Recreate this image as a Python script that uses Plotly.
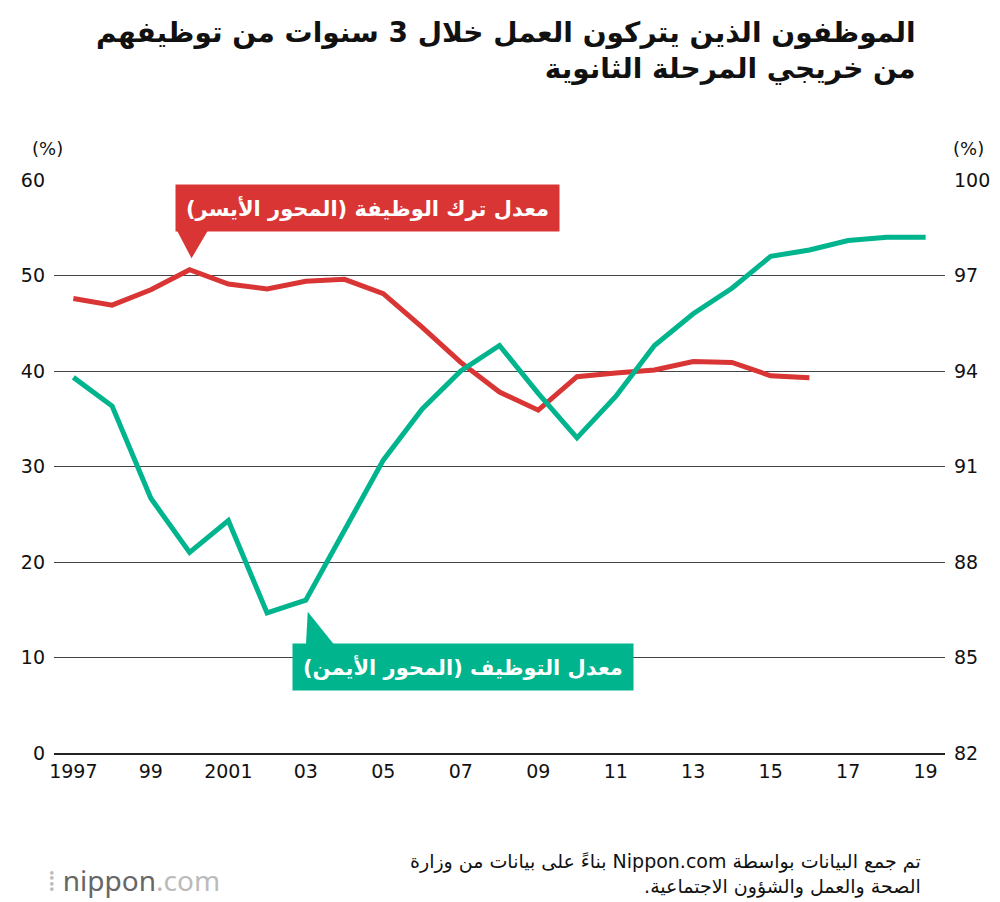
import plotly.graph_objects as go

years = list(range(1997, 2020))
leave_years = list(range(1997, 2017))
leave_rate = [47.6, 46.9, 48.5, 50.6, 49.1, 48.6, 49.4, 49.6, 48.1, 44.6, 40.9, 37.8, 35.9, 39.4, 39.8, 40.1, 41.0, 40.9, 39.5, 39.3]
emp_rate = [93.8, 92.9, 90.0, 88.3, 89.3, 86.4, 86.8, 89.0, 91.2, 92.8, 94.0, 94.8, 93.3, 91.9, 93.2, 94.8, 95.8, 96.6, 97.6, 97.8, 98.1, 98.2, 98.2]
xtick_vals = list(range(1997, 2020, 2))
xtick_text = ["1997", "99", "2001", "03", "05", "07", "09", "11", "13", "15", "17", "19"]

RED = "#d93535"
GREEN = "#00b48e"
F = "DejaVu Sans, Noto Sans"
RLE, PDF = "\u202B", "\u202C"

def py(p):  # pixel row -> paper y (plot area 180..753)
    return (753 - p) / 573

fig = go.Figure()
fig.add_trace(go.Scatter(x=leave_years, y=leave_rate, mode="lines", line=dict(color=RED, width=5), yaxis="y"))
fig.add_trace(go.Scatter(x=years, y=emp_rate, mode="lines", line=dict(color=GREEN, width=5), yaxis="y2"))

fig.update_layout(
    width=1000, height=902, showlegend=False,
    paper_bgcolor="white", plot_bgcolor="white",
    margin=dict(l=46, r=63, t=172, b=157, autoexpand=False),
    font=dict(family=F, size=20, color="#111"),
    xaxis=dict(range=[1996.5, 2019.5], tickvals=xtick_vals, ticktext=xtick_text, showgrid=False,
               showline=True, linecolor="#222", linewidth=2, ticks="", zeroline=False,
               tickfont=dict(size=19)),
    yaxis=dict(range=[0, 60], dtick=10, gridcolor="#444", gridwidth=1, zeroline=False,
               ticks="", tickfont=dict(size=19), ticklabelstandoff=8),
    yaxis2=dict(range=[82, 100], tick0=82, dtick=3, overlaying="y", side="right", showgrid=False,
                zeroline=False, ticks="", tickfont=dict(size=19), ticklabelstandoff=8),
)

ann = [
    dict(x=0.97, y=py(14), xref="paper", yref="paper", xanchor="right", yanchor="top",
         text="<b>" + RLE + "الموظفون الذين يتركون العمل خلال 3 سنوات من توظيفهم" + PDF + "<br>" + RLE + "من خريجي المرحلة الثانوية" + PDF + "</b>",
         align="right", font=dict(size=28, color="#111", family=F), showarrow=False),
    dict(x=0, xshift=-24, y=py(136), xref="paper", yref="paper", text="(%)", showarrow=False, font=dict(size=18)),
    dict(x=1, xshift=41, y=py(136), xref="paper", yref="paper", text="(%)", showarrow=False, font=dict(size=18)),
    dict(x=2004.6, y=57.1, xref="x", yref="y", text="<b>" + RLE + "معدل ترك الوظيفة (المحور الأيسر)" + PDF + "</b>",
         bgcolor=RED, font=dict(color="white", size=21, family=F), showarrow=False, borderpad=10),
    dict(x=2007.05, y=9.0, xref="x", yref="y", text="<b>" + RLE + "معدل التوظيف (المحور الأيمن)" + PDF + "</b>",
         bgcolor=GREEN, font=dict(color="white", size=21, family=F), showarrow=False, borderpad=10),
    dict(x=0.975, y=py(900), xref="paper", yref="paper", xanchor="right", yanchor="bottom",
         text=RLE + "تم جمع البيانات بواسطة Nippon.com بناءً على بيانات من وزارة" + PDF + "<br>" + RLE + "الصحة والعمل والشؤون الاجتماعية." + PDF,
         align="right", font=dict(size=19, color="#111", family=F), showarrow=False),
    dict(x=0, xshift=-8, y=py(880), xref="paper", yref="paper", xanchor="left", yanchor="middle",
         text="<span style='color:#bbb'>⁞</span> nippon<span style='color:#bbb'>.com</span>",
         font=dict(size=28, color="#666", family="Noto Sans, DejaVu Sans"), showarrow=False),
]
fig.update_layout(annotations=ann)

fig.update_layout(shapes=[
    dict(type="path", xref="x", yref="y", path="M 1999.65 54.9 L 2000.5 54.9 L 2000.05 51.8 Z",
         fillcolor=RED, line=dict(width=0)),
    dict(type="path", xref="x", yref="y", path="M 2003.0 11.0 L 2003.8 11.0 L 2003.05 14.8 Z",
         fillcolor=GREEN, line=dict(width=0)),
])
fig.write_html("out.html")
